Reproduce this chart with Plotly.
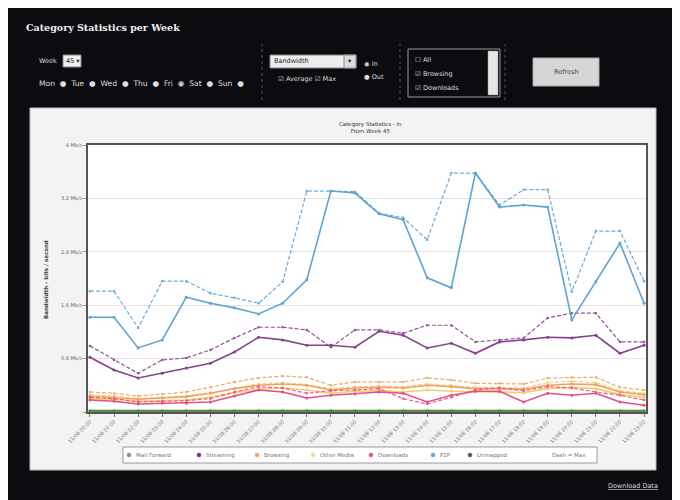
import plotly.graph_objects as go

W, H = 680, 500
OFF = 8  # page body offset in the screenshot
def px(x): return (x - OFF) / W
def py(y): return 1 - (y - OFF) / H

hours = ["11/06 %02d:00" % h for h in range(24)]

p2p_avg = [1.42,1.42,0.96,1.08,1.72,1.63,1.56,1.47,1.63,1.98,3.31,3.28,2.97,2.88,2.01,1.86,3.58,3.07,3.10,3.07,1.38,1.95,2.53,1.63]
p2p_max = [1.81,1.81,1.26,1.96,1.96,1.78,1.71,1.63,1.95,3.31,3.31,3.30,2.98,2.91,2.58,3.58,3.58,3.10,3.33,3.33,1.80,2.71,2.71,1.96]
stream_avg = [0.82,0.63,0.51,0.58,0.66,0.73,0.90,1.12,1.08,1.00,1.00,0.97,1.21,1.15,0.96,1.03,0.88,1.05,1.08,1.12,1.11,1.15,0.88,1.00]
stream_max = [0.99,0.78,0.58,0.78,0.81,0.93,1.11,1.27,1.27,1.23,0.97,1.23,1.23,1.18,1.30,1.30,1.05,1.08,1.11,1.41,1.48,1.48,1.05,1.05]
browse_avg = [0.24,0.22,0.19,0.21,0.23,0.28,0.35,0.40,0.42,0.40,0.33,0.36,0.37,0.36,0.40,0.38,0.35,0.35,0.34,0.40,0.42,0.41,0.30,0.26]
browse_max = [0.30,0.28,0.24,0.27,0.30,0.37,0.45,0.51,0.54,0.52,0.40,0.45,0.45,0.45,0.51,0.48,0.43,0.43,0.42,0.51,0.52,0.52,0.37,0.33]
media_avg = [0.20,0.19,0.16,0.17,0.18,0.22,0.29,0.34,0.36,0.33,0.28,0.31,0.32,0.30,0.33,0.31,0.30,0.30,0.29,0.35,0.37,0.35,0.26,0.22]
media_max = [0.26,0.24,0.20,0.22,0.24,0.29,0.36,0.42,0.44,0.41,0.35,0.38,0.39,0.38,0.42,0.40,0.37,0.37,0.36,0.44,0.46,0.44,0.32,0.28]
down_avg = [0.18,0.16,0.12,0.13,0.13,0.15,0.24,0.33,0.30,0.21,0.25,0.27,0.30,0.28,0.15,0.25,0.31,0.31,0.15,0.28,0.25,0.28,0.15,0.10]
down_max = [0.22,0.20,0.15,0.16,0.17,0.20,0.30,0.38,0.36,0.28,0.32,0.33,0.35,0.20,0.12,0.22,0.33,0.36,0.32,0.38,0.36,0.30,0.25,0.18]
mail_avg = [0.01,0.01,0.01,0.01,0.01,0.01,0.01,0.01,0.01,0.01,0.01,0.01,0.01,0.01,0.01,0.01,0.01,0.01,0.01,0.01,0.01,0.01,0.01,0.01]
unmapped_avg = [0.02,0.02,0.02,0.02,0.02,0.02,0.02,0.02,0.02,0.02,0.02,0.02,0.02,0.02,0.02,0.02,0.02,0.02,0.02,0.02,0.02,0.02,0.02,0.02]

y_ticks = [0, 0.8, 1.6, 2.4, 3.2, 4.0]
y_tick_labels = ["", "0.8 Mb/s", "1.6 Mb/s", "2.4 Mb/s", "3.2 Mb/s", "4 Mb/s"]

series = [
    ("Mail Forward", mail_avg, None, "#8a8a8a"),
    ("Other Media", media_avg, media_max, "#f2cf6a"),
    ("Browsing", browse_avg, browse_max, "#f2a062"),
    ("Downloads", down_avg, down_max, "#e54f86"),
    ("Streaming", stream_avg, stream_max, "#8a3f8e"),
    ("P2P", p2p_avg, p2p_max, "#5ea4d2"),
    ("Unmapped", unmapped_avg, None, "#4f8a3a"),
]

fig = go.Figure()
for name, avg, mx, col in series:
    if mx is not None:
        fig.add_trace(go.Scatter(x=hours, y=mx, mode="lines+markers", name=name + " max",
                                 line=dict(color=col, width=1.2, dash="4px,2px"),
                                 marker=dict(size=2.5, color=col), opacity=0.9, showlegend=False))
    fig.add_trace(go.Scatter(x=hours, y=avg, mode="lines+markers", name=name,
                             line=dict(color=col, width=1.6),
                             marker=dict(size=3, color=col), showlegend=False))

shapes = []
annotations = []

def rect(x0, x1, y0, y1, fill, line="#888", lw=1, layer="above"):
    shapes.append(dict(type="rect", xref="paper", yref="paper", x0=px(x0), x1=px(x1), y0=py(y1), y1=py(y0),
                       fillcolor=fill, line=dict(color=line, width=lw), layer=layer))

def text(t, x, y, size=6.5, color="#dddddd", anchor="left", family=None, angle=0):
    f = dict(size=size, color=color)
    if family:
        f["family"] = family
    annotations.append(dict(text=t, x=px(x), y=py(y), xref="paper", yref="paper", xanchor=anchor,
                            yanchor="middle", showarrow=False, font=f, textangle=angle))

# chart panel and white plot background
rect(30, 656, 108, 470, "#f3f3f3", line="#bdbdbd", layer="below")
rect(88, 646, 145, 412, "#ffffff", line="#ffffff", lw=0, layer="below")

# header
text("<b>Category Statistics per Week</b>", 24, 27, size=9.5, color="#f0f0f0", family="DejaVu Serif")
text("Week", 37, 61)
rect(63, 81, 55, 67, "#f0f0f0")
text("45 ▾", 64, 61, color="#222")
text("Mon  ●  Tue  ●  Wed  ●  Thu  ●  Fri  ◉  Sat  ●  Sun  ●", 37, 83, size=7.6)
for sx in (262, 400, 505):
    shapes.append(dict(type="line", xref="paper", yref="paper", x0=px(sx), x1=px(sx), y0=py(100), y1=py(44),
                       line=dict(color="#555", width=1, dash="dot")))
rect(270, 356, 55, 68, "#eeeeee")
rect(344, 356, 55, 68, "#dddddd")
text("Bandwidth", 272, 61.5, color="#222")
text("▾", 350, 61.5, color="#222", anchor="center")
text("☑ Average ☑ Max", 276, 79)
text("◉ In", 362, 64)
text("● Out", 362, 77)
rect(408, 500, 49, 97, "#0b0b10", line="#999")
rect(488, 498, 51, 95, "#e6e6e6", line="#999", lw=0.5)
for i, t in enumerate(["☐ All", "☑ Browsing", "☑ Downloads"]):
    text(t, 413, 60 + 14 * i)
rect(533, 599, 58, 86, "#d6d6d6", line="#aaa")
text("Refresh", 566, 72, color="#444", anchor="center")

# chart title and axis title
text("Category Statistics - In<br>From Week 45", 370, 127, size=5.5, color="#333", anchor="center")
text("<b>Bandwidth - bits / second</b>", 46, 280, size=5.5, color="#444", anchor="center", angle=-90)

# manual legend
rect(123, 597, 447, 463, "#ffffff", line="#999")
legend_items = [("Mail Forward", "#8a8a8a", 129), ("Streaming", "#7a2f7e", 199), ("Browsing", "#f2a062", 257),
                ("Other Media", "#f2e07a", 313), ("Downloads", "#e54f86", 371), ("P2P", "#5ea4d2", 433),
                ("Unmapped", "#555555", 470)]
for name, col, lx in legend_items:
    shapes.append(dict(type="circle", xref="paper", yref="paper", x0=px(lx - 2), x1=px(lx + 2),
                       y0=py(457), y1=py(453), fillcolor=col, line=dict(color=col, width=0.5)))
    text(name, lx + 5, 455, size=5.5, color="#777")
text("Dash = Max", 550, 455, size=5.5, color="#777")

text("<u>Download Data</u>", 660, 486, anchor="right")

fig.update_layout(
    template="none",
    width=W, height=H,
    margin=dict(l=0, r=0, t=0, b=0),
    paper_bgcolor="#0b0b10",
    plot_bgcolor="#ffffff",
    font=dict(family="DejaVu Sans"),
    shapes=shapes,
    annotations=annotations,
    showlegend=False,
    xaxis=dict(domain=[px(88), px(646)], type="category", range=[-0.08, 23.08], automargin=False,
               tickangle=-45, tickfont=dict(size=5, color="#777"), ticks="outside", ticklen=3,
               tickcolor="#777", showgrid=False, showline=True, linecolor="#555", linewidth=1.5, mirror=True,
               zeroline=False),
    yaxis=dict(domain=[py(412), py(145)], range=[0, 4.0], tickvals=y_ticks, ticktext=y_tick_labels,
               automargin=False,
               tickfont=dict(size=5, color="#666"), ticks="outside", ticklen=3, tickcolor="#999",
               showgrid=True, gridcolor="#e2e2e2", gridwidth=1, showline=True, linecolor="#555",
               linewidth=1.5, mirror=True, zeroline=False),
)

fig.write_html("out.html")
